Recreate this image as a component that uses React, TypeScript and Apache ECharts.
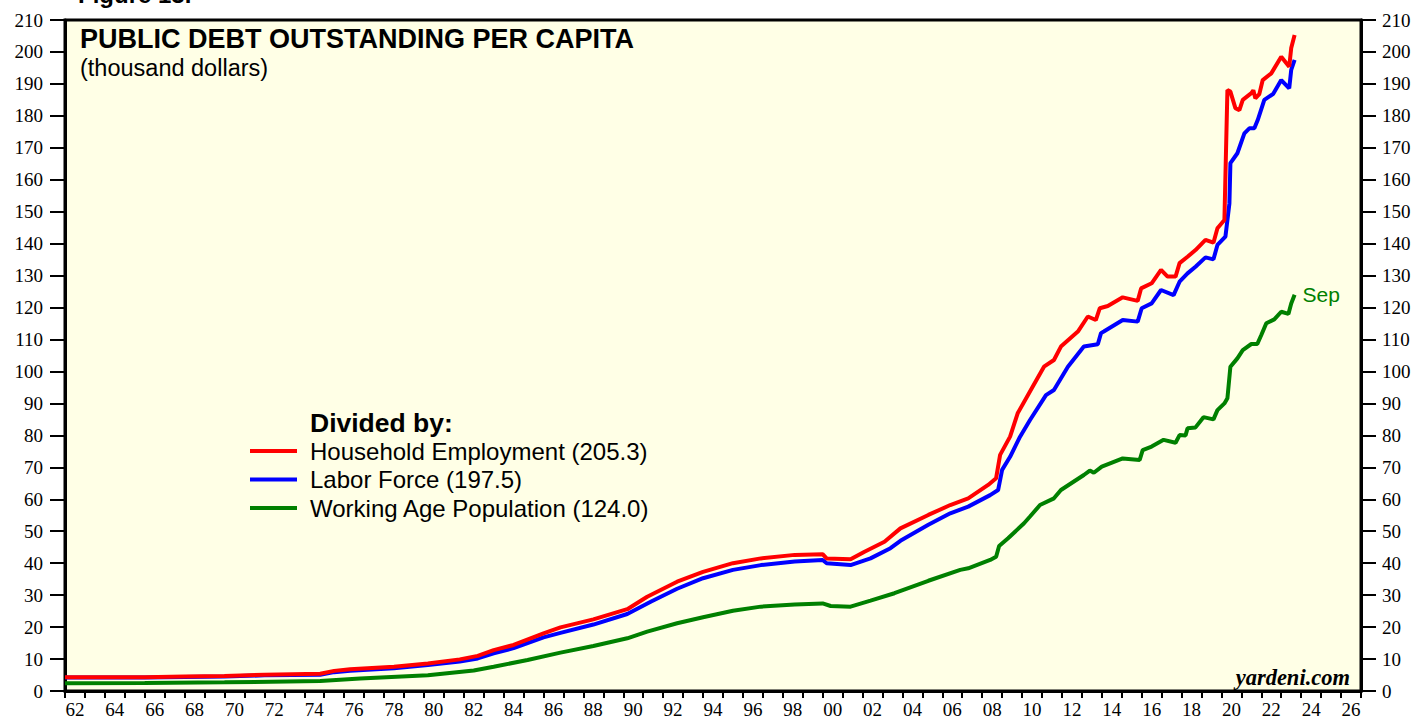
import React, { useEffect, useRef } from "react";
import * as echarts from "echarts";

// [fractional year, thousand dollars]
const householdEmployment: [number, number][] = [
  [1962, 4.3], [1964, 4.3], [1966, 4.3], [1968, 4.5], [1970, 4.7], [1972, 5.1], [1974.8, 5.4],
  [1975.5, 6.3], [1976.3, 6.8], [1978.5, 7.6], [1980.2, 8.6], [1981.8, 9.9], [1982.7, 11.0],
  [1983.5, 12.8], [1984.5, 14.4], [1986.0, 18.0], [1986.85, 19.9], [1988.5, 22.4], [1990.2, 25.6],
  [1991.2, 29.5], [1992.7, 34.2], [1994.0, 37.3], [1995.5, 40.0], [1996.9, 41.5], [1998.6, 42.6],
  [2000.0, 42.8], [2000.2, 41.5], [2001.4, 41.2], [2002.1, 43.6], [2003.1, 46.7], [2003.9, 50.9],
  [2005.3, 55.1], [2006.4, 58.2], [2007.3, 60.3], [2008.3, 64.5], [2008.7, 66.6], [2008.9, 73.9],
  [2009.4, 79.6], [2009.78, 86.9], [2010.44, 94.2], [2011.1, 101.5], [2011.6, 103.6], [2011.95, 107.8],
  [2012.8, 112.5], [2013.3, 117.2], [2013.7, 116.1], [2013.9, 119.8], [2014.3, 120.5], [2015.05, 123.2],
  [2015.8, 122.1], [2015.97, 126.0], [2016.5, 127.6], [2016.97, 131.8], [2017.3, 129.7], [2017.7, 129.7],
  [2017.9, 133.9], [2018.3, 135.9], [2018.7, 138.0], [2019.2, 141.2], [2019.6, 140.3], [2019.8, 144.8],
  [2020.15, 147.4], [2020.3, 188.1], [2020.45, 187.6], [2020.7, 182.4], [2020.9, 181.8], [2021.07, 185.0],
  [2021.5, 187.1], [2021.6, 188.0], [2021.7, 185.5], [2021.9, 186.8], [2022.07, 191.2], [2022.5, 193.3],
  [2023.0, 198.5], [2023.4, 195.4], [2023.5, 201.2], [2023.67, 205.3],
];

const laborForce: [number, number][] = [
  [1962, 4.2], [1964, 4.2], [1966, 4.2], [1968, 4.4], [1970, 4.5], [1972, 4.9], [1974.8, 5.1],
  [1975.5, 5.9], [1976.3, 6.3], [1978.5, 7.1], [1980.2, 8.1], [1981.8, 9.2], [1982.7, 10.2],
  [1983.5, 11.8], [1984.5, 13.4], [1986.0, 16.8], [1986.85, 18.2], [1988.5, 20.8], [1990.2, 24.1],
  [1991.4, 28.0], [1992.7, 32.0], [1994.0, 35.3], [1995.5, 37.9], [1996.9, 39.4], [1998.6, 40.5],
  [2000.0, 41.0], [2000.2, 40.0], [2001.4, 39.4], [2002.4, 41.5], [2003.4, 44.7], [2003.9, 47.0],
  [2005.3, 52.0], [2006.4, 55.6], [2007.3, 57.7], [2008.4, 61.3], [2008.8, 62.9], [2009.0, 69.2],
  [2009.4, 73.3], [2009.9, 79.6], [2010.4, 84.8], [2011.2, 92.6], [2011.6, 94.2], [2012.3, 101.5],
  [2013.1, 107.8], [2013.8, 108.5], [2013.96, 112.0], [2014.1, 112.5], [2015.05, 116.1], [2015.8, 115.6],
  [2016.0, 119.8], [2016.5, 121.3], [2016.97, 125.5], [2017.6, 123.9], [2017.9, 128.1], [2018.3, 130.7],
  [2018.7, 132.8], [2019.2, 135.7], [2019.6, 135.1], [2019.8, 139.6], [2020.2, 142.2], [2020.4, 152.6],
  [2020.45, 165.2], [2020.8, 168.3], [2021.15, 174.5], [2021.4, 176.1], [2021.65, 176.1], [2021.82, 178.7],
  [2022.15, 185.0], [2022.6, 186.9], [2023.0, 191.2], [2023.4, 188.6], [2023.5, 194.4], [2023.67, 197.5],
];

const workingAgePopulation: [number, number][] = [
  [1962, 2.4], [1966, 2.5], [1970, 2.7], [1974.8, 3.1], [1976.8, 3.9], [1980.2, 4.9], [1982.5, 6.4],
  [1983.5, 7.6], [1985.2, 9.7], [1986.85, 12.0], [1988.5, 14.1], [1990.2, 16.5], [1991.2, 18.6],
  [1992.7, 21.2], [1994.0, 23.1], [1995.5, 25.1], [1996.9, 26.4], [1998.6, 27.1], [2000.0, 27.4],
  [2000.4, 26.6], [2001.4, 26.4], [2002.4, 28.3], [2003.6, 30.6], [2005.3, 34.5], [2006.9, 37.9],
  [2007.3, 38.4], [2008.4, 41.0], [2008.7, 42.0], [2008.85, 45.4], [2009.3, 47.8], [2010.1, 52.5],
  [2010.4, 54.6], [2010.9, 58.2], [2011.6, 60.3], [2011.95, 62.9], [2013.1, 67.6], [2013.4, 69.0],
  [2013.6, 68.3], [2014.0, 70.2], [2015.05, 72.8], [2015.9, 72.3], [2016.05, 75.4], [2016.5, 76.5],
  [2017.1, 78.6], [2017.7, 77.7], [2017.9, 80.1], [2018.2, 80.0], [2018.3, 82.2], [2018.7, 82.5],
  [2019.1, 85.7], [2019.6, 85.0], [2019.8, 87.9], [2020.15, 90.0], [2020.3, 91.6], [2020.45, 101.5],
  [2020.8, 104.1], [2021.07, 106.7], [2021.5, 108.6], [2021.8, 108.6], [2022.0, 111.4], [2022.25, 115.1],
  [2022.65, 116.3], [2023.0, 118.7], [2023.36, 118.0], [2023.5, 121.3], [2023.67, 124.0],
];

const seriesNames = [
  "Household Employment (205.3)",
  "Labor Force (197.5)",
  "Working Age Population (124.0)",
];
const seriesColors = ["#FF0000", "#0000FF", "#008000"];

const firstYear = 1962;
const lastYear = 2027;

const SANS = "'Liberation Sans', Arial, Helvetica, sans-serif";
const SERIF = "'Liberation Serif', 'Times New Roman', Times, serif";

export default function App() {
  const ref = useRef<HTMLDivElement>(null);
  useEffect(() => {
    document.body.style.margin = "0";
    const chart = echarts.init(ref.current!, null, { renderer: "svg" });
    const yAxisCommon = {
      type: "value" as const,
      min: 0,
      max: 210,
      interval: 10,
      axisLine: { show: true, lineStyle: { color: "#000", width: 3 } },
      axisTick: { show: true, inside: false, length: 15, lineStyle: { color: "#000", width: 2 } },
      splitLine: { show: false },
    };
    chart.setOption({
      animation: false,
      backgroundColor: "#FFFFFF",
      grid: {
        left: 65,
        right: 55,
        top: 20,
        bottom: 28,
        show: true,
        backgroundColor: "#FFFFE6",
        borderColor: "#000",
        borderWidth: 3,
      },
      xAxis: [
        {
          type: "value",
          min: firstYear,
          max: lastYear,
          interval: 1,
          axisLine: { show: true, lineStyle: { color: "#000", width: 3 } },
          axisTick: { show: true, inside: false, length: 7, lineStyle: { color: "#000", width: 2 } },
          axisLabel: { show: false },
          splitLine: { show: false },
        },
        {
          type: "value",
          position: "bottom",
          min: 0,
          max: (lastYear - firstYear) * 2,
          interval: 1,
          axisLine: { show: false },
          axisTick: { show: false },
          splitLine: { show: false },
          axisLabel: {
            show: true,
            margin: 9,
            fontFamily: SERIF,
            fontSize: 19,
            color: "#000",
            formatter: (v: number) => {
              if (v % 4 !== 1) return "";
              const yr = firstYear + (v - 1) / 2;
              return String(yr % 100).padStart(2, "0");
            },
          },
        },
      ],
      yAxis: [
        {
          ...yAxisCommon,
          position: "left",
          axisLabel: { margin: 22, fontFamily: SERIF, fontSize: 19, color: "#000" },
        },
        {
          ...yAxisCommon,
          position: "right",
          axisLabel: { margin: 21, fontFamily: SERIF, fontSize: 19, color: "#000" },
        },
      ],
      legend: {
        show: true,
        orient: "vertical",
        left: 250,
        top: 439,
        padding: 0,
        itemWidth: 47,
        itemHeight: 4,
        itemGap: 4.5,
        icon: "rect",
        selectedMode: false,
        data: seriesNames,
        textStyle: {
          fontFamily: SANS,
          fontSize: 24,
          color: "#000",
          padding: [0, 0, 0, 8],
        },
      },
      graphic: [
        {
          type: "text",
          x: 78,
          y: 6,
          style: { text: "Figure 13.", font: `bold 24px ${SANS}`, fill: "#000", verticalAlign: "bottom" },
        },
        {
          type: "text",
          x: 80,
          y: 39,
          style: {
            text: "PUBLIC DEBT OUTSTANDING PER CAPITA",
            font: `bold 27px ${SANS}`,
            fill: "#000",
            verticalAlign: "middle",
          },
        },
        {
          type: "text",
          x: 80,
          y: 68,
          style: { text: "(thousand dollars)", font: `23.5px ${SANS}`, fill: "#000", verticalAlign: "middle" },
        },
        {
          type: "text",
          x: 310,
          y: 423,
          style: { text: "Divided by:", font: `bold 26.5px ${SANS}`, fill: "#000", verticalAlign: "middle" },
        },
        {
          type: "text",
          x: 1350,
          y: 677,
          style: {
            text: "yardeni.com",
            font: `italic bold 22.5px ${SERIF}`,
            fill: "#000",
            align: "right",
            verticalAlign: "middle",
          },
        },
      ],
      series: [
        {
          name: seriesNames[2],
          type: "line",
          xAxisIndex: 0,
          yAxisIndex: 0,
          data: workingAgePopulation,
          showSymbol: false,
          lineStyle: { color: seriesColors[2], width: 4 },
          itemStyle: { color: seriesColors[2] },
          endLabel: {
            show: true,
            formatter: "Sep",
            color: seriesColors[2],
            fontFamily: SANS,
            fontSize: 21,
            distance: 8,
          },
        },
        {
          name: seriesNames[1],
          type: "line",
          xAxisIndex: 0,
          yAxisIndex: 0,
          data: laborForce,
          showSymbol: false,
          lineStyle: { color: seriesColors[1], width: 4 },
          itemStyle: { color: seriesColors[1] },
        },
        {
          name: seriesNames[0],
          type: "line",
          xAxisIndex: 0,
          yAxisIndex: 0,
          data: householdEmployment,
          showSymbol: false,
          lineStyle: { color: seriesColors[0], width: 4 },
          itemStyle: { color: seriesColors[0] },
        },
      ],
    });
    return () => chart.dispose();
  }, []);
  return <div ref={ref} style={{ width: 1416, height: 719 }} />;
}
